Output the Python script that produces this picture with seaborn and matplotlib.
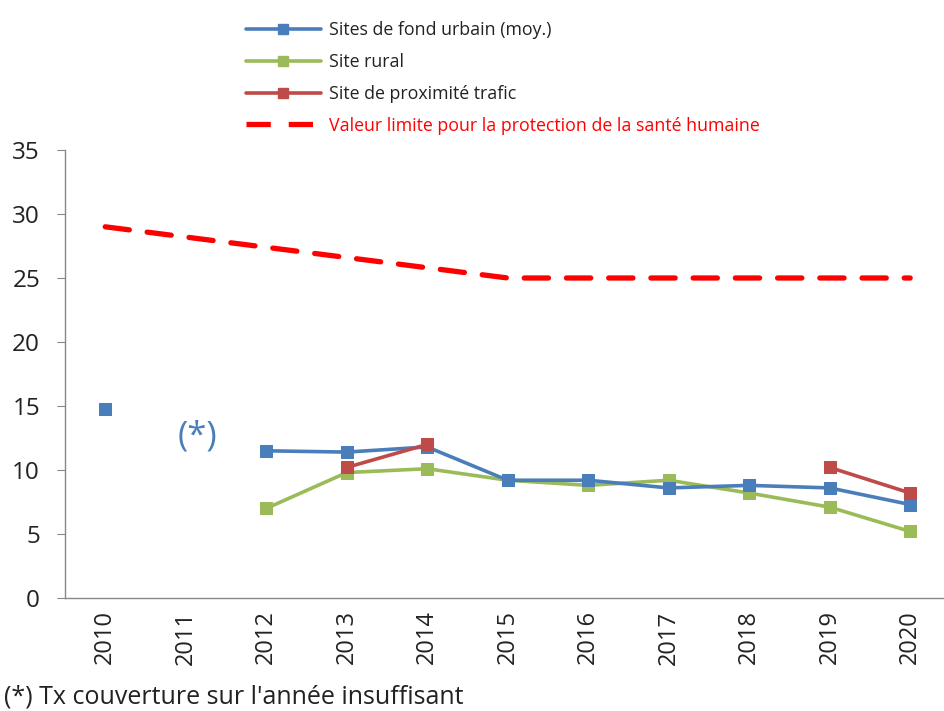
import numpy as np
import pandas as pd
import matplotlib
matplotlib.use("Agg")
import matplotlib.pyplot as plt
import seaborn as sns
from matplotlib.lines import Line2D

years = ["2010", "2011", "2012", "2013", "2014", "2015", "2016", "2017", "2018", "2019", "2020"]
urbain = [14.8, np.nan, 11.5, 11.4, 11.8, 9.2, 9.2, 8.6, 8.8, 8.6, 7.3]
rural = [np.nan, np.nan, 7.0, 9.8, 10.1, 9.2, 8.8, 9.2, 8.2, 7.1, 5.2]
trafic = [np.nan, np.nan, np.nan, 10.2, 12.0, np.nan, np.nan, np.nan, np.nan, 10.2, 8.2]
limite = [29.0, 28.2, 27.4, 26.6, 25.8, 25.0, 25.0, 25.0, 25.0, 25.0, 25.0]

labels = ["Sites de fond urbain (moy.)", "Site rural", "Site de proximité trafic",
          "Valeur limite pour la protection de la santé humaine"]
yticks = [0, 5, 10, 15, 20, 25, 30, 35]

sns.set_style("white")
plt.rcParams['font.family'] = ['Open Sans', 'DejaVu Sans']

c_blue = "#4A7EBB"
c_green = "#9BBB59"
c_red = "#BE4B48"
c_lim = "#FF0000"

fig = plt.figure(figsize=(9.44, 7.11), dpi=100)
ax = fig.add_axes([65/944, 1 - 598/711, 1 - 65/944, (598 - 150)/711])

x = np.arange(len(years))


def segments(vals):
    segs, cur = [], []
    for i, v in enumerate(vals):
        if np.isnan(v):
            if cur:
                segs.append(cur)
            cur = []
        else:
            cur.append(i)
    if cur:
        segs.append(cur)
    return segs


# limit line
df_lim = pd.DataFrame({"x": x, "y": limite})
sns.lineplot(data=df_lim, x="x", y="y", ax=ax, color=c_lim, linewidth=3.8,
             dashes=False, zorder=2)
ax.lines[-1].set_dashes([4.6, 3.4])
ax.lines[-1].set_dash_capstyle("round")

for vals, col in [(rural, c_green), (urbain, c_blue), (trafic, c_red)]:
    for seg in segments(vals):
        d = pd.DataFrame({"x": x[seg], "y": [vals[i] for i in seg]})
        sns.lineplot(data=d, x="x", y="y", ax=ax, color=col, linewidth=2.6,
                     marker="s", markersize=8.5, markeredgecolor=col, zorder=3)

ax.set_xlim(-0.5, 10.42)
ax.set_ylim(0, 35)
ax.set_yticks(yticks)
ax.set_yticklabels([str(t) for t in yticks], fontsize=17.5, color="#222222")
ax.set_xticks(x)
ax.set_xticklabels(years, rotation=90, fontsize=17, color="#222222")
ax.set_xticks(np.arange(-0.5, 10.5, 1), minor=True)
ax.tick_params(axis="x", which="major", length=0, pad=9)
ax.tick_params(axis="x", which="minor", length=6, color="#888888", direction="out")
ax.tick_params(axis="y", length=6, color="#888888", direction="out", left=True, pad=12)
ax.set_xlabel("")
ax.set_ylabel("")
for s in ["top", "right"]:
    ax.spines[s].set_visible(False)
for s in ["left", "bottom"]:
    ax.spines[s].set_color("#888888")
    ax.spines[s].set_linewidth(1.0)

ax.text(1.14, 12.6, "(*)", color=c_blue, fontsize=25, ha="center", va="center")

handles = [
    Line2D([], [], color=c_blue, lw=2.6, marker="s", markersize=7),
    Line2D([], [], color=c_green, lw=2.6, marker="s", markersize=7),
    Line2D([], [], color=c_red, lw=2.6, marker="s", markersize=7),
    Line2D([], [], color=c_lim, lw=3.8, dashes=[4.6, 3.4]),
]
leg = fig.legend(handles, labels, loc="upper left", bbox_to_anchor=(230/944, 1 - 5/711),
                 frameon=False, fontsize=12.8, handlelength=4.2, labelspacing=0.78,
                 handletextpad=0.45)
for t in leg.get_texts():
    t.set_color("#222222")
leg.get_texts()[3].set_color("#FF0000")

fig.text(4/944, 1 - 697/711, "(*) Tx couverture sur l'année insuffisant", fontsize=18,
         color="#222222", va="center", ha="left")

fig.savefig("out.png", dpi=100)
